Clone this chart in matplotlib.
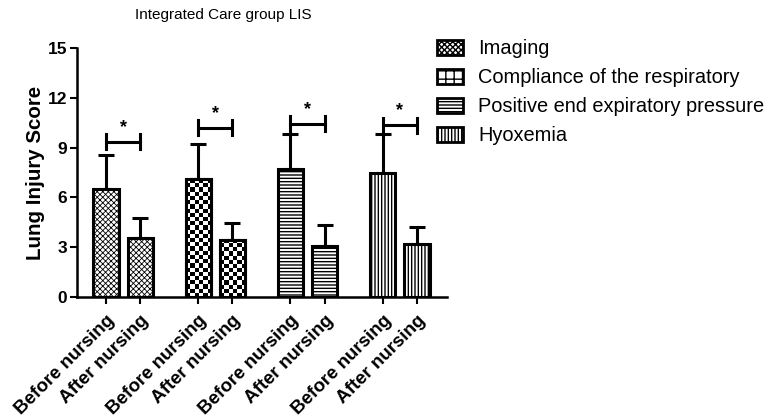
import numpy as np
import matplotlib
matplotlib.use("Agg")
import matplotlib.pyplot as plt
from matplotlib.patches import Patch

plt.rcParams['font.family'] = ['Liberation Sans', 'DejaVu Sans']

categories = ['Imaging', 'Compliance of the respiratory',
              'Positive end expiratory pressure', 'Hyoxemia']
before = [6.5, 7.1, 7.7, 7.45]
before_err = [2.05, 2.1, 2.1, 2.4]
after = [3.55, 3.45, 3.1, 3.2]
after_err = [1.2, 1.0, 1.25, 1.0]
bracket_y = [9.35, 10.2, 10.45, 10.35]
ticklabels = ['Before nursing', 'After nursing']
hatches = ['xxxxxx', None, '-----', '|||||']
hatch_lw = [0.6, 1.0, 1.0, 1.0]

fig = plt.figure(figsize=(7.66, 4.17), dpi=100)
ax = fig.add_axes([0.1005, 0.2878, 0.483, 0.597])

gap = 2.7
width = 0.74
pos_b = np.arange(4) * gap
pos_a = pos_b + 1.0
ax.set_xlim(-0.85, pos_a[-1] + 0.88)
ax.set_ylim(0, 15)

for i in range(4):
    for x, v, e in [(pos_b[i], before[i], before_err[i]), (pos_a[i], after[i], after_err[i])]:
        bars = ax.bar(x, v, width=width, color='white', edgecolor='black',
                      linewidth=2.2, hatch=hatches[i], zorder=2)
        for b in bars:
            if hasattr(b, 'set_hatch_linewidth'):
                b.set_hatch_linewidth(hatch_lw[i])
            if hatches[i] is None:
                # checkerboard texture clipped to the bar
                ncol = 6
                hpx = v * 249 / 15
                nrow = max(1, int(round(hpx / 4.2)))
                chk = (np.add.outer(np.arange(nrow), np.arange(ncol)) % 2).astype(float)
                im = ax.imshow(chk, cmap='gray', extent=[x - width / 2, x + width / 2, 0, v],
                               aspect='auto', interpolation='nearest', zorder=2.5, origin='lower')
                im.set_clip_path(b)
                ax.bar(x, v, width=width, color='none', edgecolor='black',
                       linewidth=2.2, zorder=3)
        ax.errorbar(x, v, yerr=[[0], [e]], fmt='none', ecolor='black',
                    elinewidth=2.2, capsize=6, capthick=2.2, zorder=1)
    # significance bracket
    y = bracket_y[i]
    ax.plot([pos_b[i], pos_a[i]], [y, y], color='black', lw=2.2)
    ax.plot([pos_b[i], pos_b[i]], [y - 0.45, y + 0.45], color='black', lw=2.2)
    ax.plot([pos_a[i], pos_a[i]], [y - 0.45, y + 0.45], color='black', lw=2.2)
    ax.text((pos_b[i] + pos_a[i]) / 2, y + 0.35, '*', ha='center', va='bottom',
            fontsize=13, fontweight='bold')

ax.set_xlim(-0.85, pos_a[-1] + 0.88)
ax.set_ylim(0, 15)
ax.set_yticks([0, 3, 6, 9, 12, 15])
ticks = np.sort(np.concatenate([pos_b, pos_a]))
ax.set_xticks(ticks)
ax.set_xticklabels(ticklabels * 4, rotation=45, ha='right', rotation_mode='anchor',
                   fontweight='bold', fontsize=13.5)
for lab in ax.get_yticklabels():
    lab.set_fontweight('bold')
    lab.set_fontsize(12.5)
ax.spines['top'].set_visible(False)
ax.spines['right'].set_visible(False)
ax.spines['left'].set_linewidth(1.8)
ax.spines['bottom'].set_linewidth(1.8)
ax.tick_params(axis='both', width=1.5, length=5, pad=2)
ax.tick_params(axis='x', pad=6)
ax.set_ylabel('Lung Injury Score', fontsize=14.8, fontweight='bold', labelpad=2)

fig.text(0.292, 0.965, 'Integrated Care group LIS', ha='center', va='center', fontsize=11)

handles = []
for i in range(4):
    h = hatches[i] if hatches[i] is not None else '++'
    p = Patch(facecolor='white', edgecolor='black', linewidth=2, hatch=h, label=categories[i])
    handles.append(p)
fig.legend(handles=handles, loc='upper left', bbox_to_anchor=(0.56, 0.925),
           frameon=False, fontsize=14.4, handlelength=1.3, handleheight=0.75,
           labelspacing=0.5, handletextpad=0.75, borderaxespad=0)

plt.savefig('out.png', dpi=100)
